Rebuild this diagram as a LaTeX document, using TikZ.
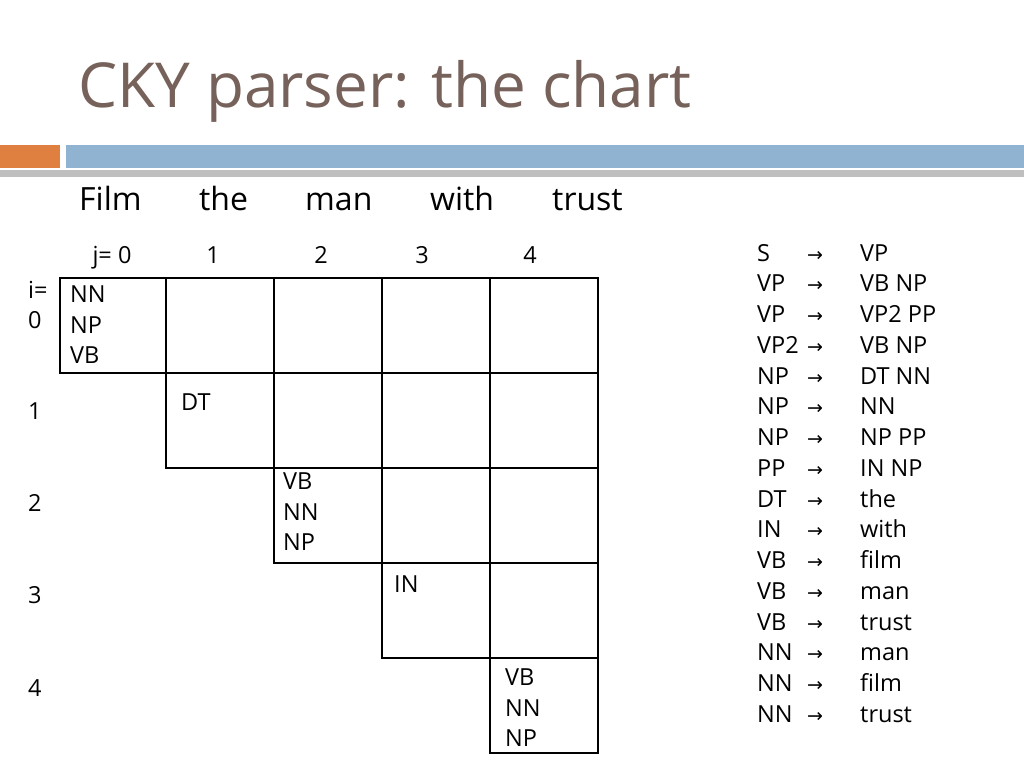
\documentclass[tikz,border=0pt]{standalone}
\usepackage{fontspec}
\setmainfont{Open Sans}
\newfontfamily\arrfont{DejaVu Sans}
\definecolor{titlec}{RGB}{118,98,90}
\definecolor{orangec}{RGB}{224,128,64}
\definecolor{bluec}{RGB}{145,179,210}
\begin{document}
\begin{tikzpicture}[x=1pt,y=-1pt,
  cell/.style={draw=black,line width=1.3pt},
  ctext/.style={anchor=north west,align=left,inner sep=0pt,font=\fontsize{23.5}{30.5}\selectfont},
  word/.style={anchor=base west,inner sep=0pt,font=\fontsize{32}{36}\selectfont},
  lab/.style={anchor=base,inner sep=0pt,font=\fontsize{23.5}{28}\selectfont},
  rule/.style={anchor=base west,inner sep=0pt,font=\fontsize{23.5}{28}\selectfont}]
\useasboundingbox (0,0) rectangle (1024,768);
\fill[white] (0,0) rectangle (1024,768);
\node[anchor=base west,inner sep=0pt,text=titlec,font=\fontsize{62}{70}\selectfont] (title) at (78,107) {CKY parser: the chart};
\fill[gray!50] (0,170) rectangle (1024,177);
\fill[orangec] (0,145) rectangle (60,168);
\fill[bluec] (66,145) rectangle (1024,168);
\node[word] (w0) at (79,210) {Film};
\node[word] (w1) at (199,210) {the};
\node[word] (w2) at (305,210) {man};
\node[word] (w3) at (430,210) {with};
\node[word] (w4) at (552,210) {trust};
\node[lab] (j0) at (112,263) {j= 0};
\node[lab] (j1) at (213,263) {1};
\node[lab] (j2) at (321,263) {2};
\node[lab] (j3) at (422,263) {3};
\node[lab] (j4) at (530,263) {4};
\node[lab,anchor=base west] (ieq) at (28,298) {i=};
\node[lab,anchor=base west] (i0) at (28,328) {0};
\node[lab,anchor=base west] (i1) at (28,419) {1};
\node[lab,anchor=base west] (i2) at (28,511) {2};
\node[lab,anchor=base west] (i3) at (28,603) {3};
\node[lab,anchor=base west] (i4) at (28,696) {4};
\foreach \r/\y in {0/278,1/373,2/468,3/563,4/658}{
  \foreach \c/\x/\xx in {0/60/166,1/166/274,2/274/382,3/382/490,4/490/598}{
    \ifnum\c<\r\else \draw[cell] (\x,\y) rectangle (\xx,\y+95); \fi
  }
}
\node[ctext] (c00) at (70,286) {NN\\NP\\VB};
\node[ctext] (c11) at (181,394) {DT};
\node[ctext] (c22) at (283,473) {VB\\NN\\NP};
\node[ctext] (c33) at (394,576) {IN};
\node[ctext] (c44) at (505,669) {VB\\NN\\NP};
\foreach \l/\rr [count=\k from 0] in {S/VP,VP/VB NP,VP/VP2 PP,VP2/VB NP,NP/DT NN,NP/NN,NP/NP PP,PP/IN NP,DT/the,IN/with,VB/film,VB/man,VB/trust,NN/man,NN/film,NN/trust}{
  \node[rule] (L\k) at (757,261+\k*30.75) {\l};
  \node[rule,font=\arrfont\fontsize{19}{22}\selectfont] (A\k) at (807,261+\k*30.75) {→};
  \node[rule] (R\k) at (860,261+\k*30.75) {\rr};
}
\end{tikzpicture}
\end{document}
